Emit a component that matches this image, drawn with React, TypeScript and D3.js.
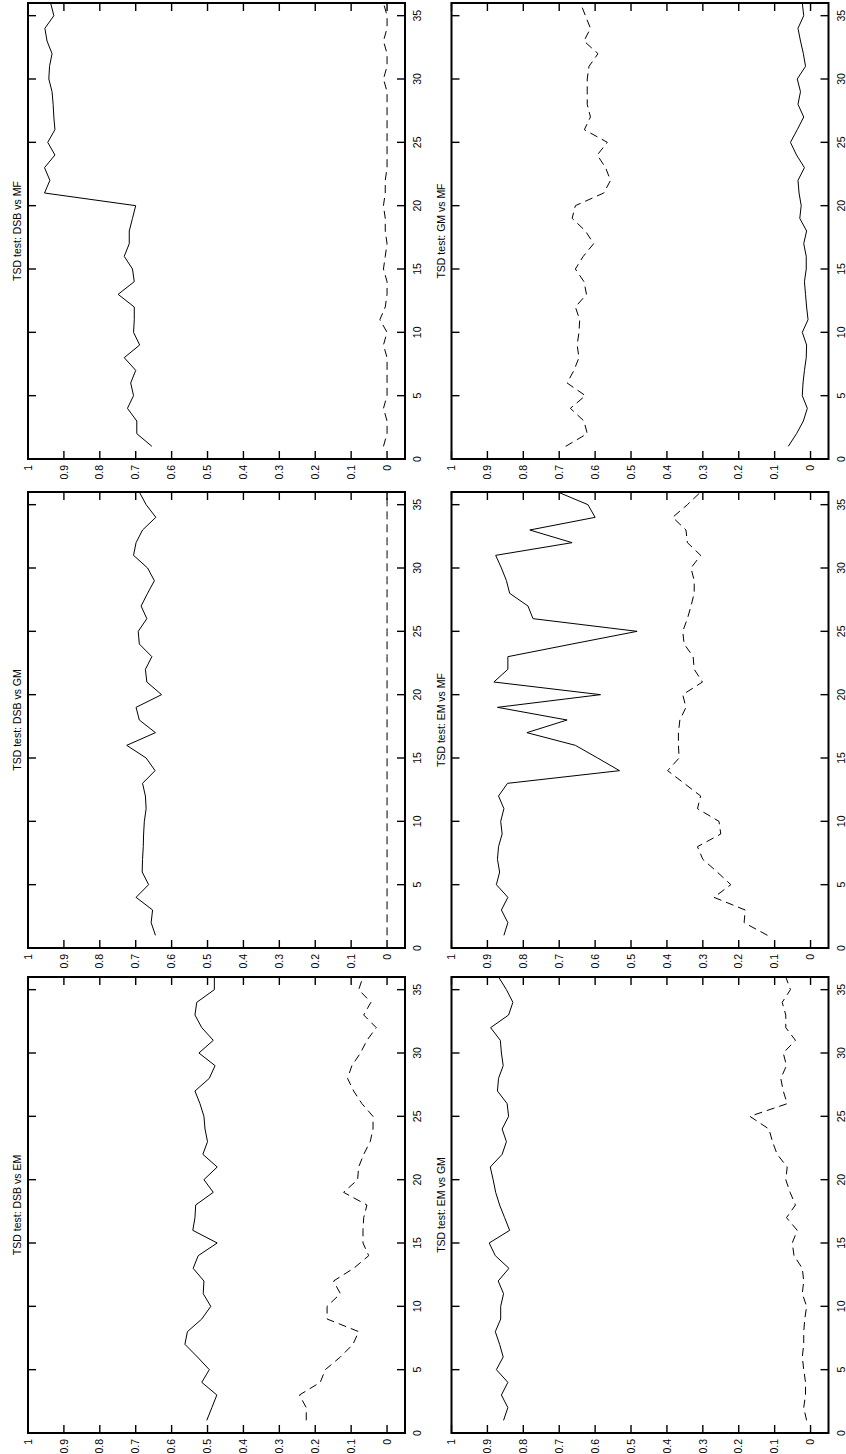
import * as d3 from "d3";

// step index along the horizontal axis of the (unrotated) plots
const steps = [1, 2, 3, 4, 5, 6, 7, 8, 9, 10, 11, 12, 13, 14, 15, 16, 17, 18, 19, 20, 21, 22, 23, 24, 25, 26, 27, 28, 29, 30, 31, 32, 33, 34, 35, 36];

const indexTicks = [0, 5, 10, 15, 20, 25, 30, 35];
const valueTicks = [0, 0.1, 0.2, 0.3, 0.4, 0.5, 0.6, 0.7, 0.8, 0.9, 1];
const valueLabels = ["0", "0.1", "0.2", "0.3", "0.4", "0.5", "0.6", "0.7", "0.8", "0.9", "1"];

const dsbEmSolid = [0.502, 0.488, 0.474, 0.516, 0.495, 0.528, 0.563, 0.556, 0.516, 0.491, 0.512, 0.510, 0.540, 0.526, 0.473, 0.541, 0.535, 0.533, 0.484, 0.510, 0.473, 0.513, 0.500, 0.507, 0.510, 0.521, 0.535, 0.495, 0.479, 0.524, 0.484, 0.516, 0.535, 0.530, 0.481, 0.481];
const dsbEmDashed = [0.225, 0.225, 0.244, 0.186, 0.172, 0.130, 0.095, 0.079, 0.167, 0.167, 0.130, 0.149, 0.093, 0.051, 0.067, 0.067, 0.065, 0.056, 0.121, 0.082, 0.079, 0.065, 0.047, 0.039, 0.039, 0.070, 0.093, 0.110, 0.098, 0.074, 0.056, 0.030, 0.065, 0.045, 0.079, 0.067];

const dsbGmSolid = [0.645, 0.657, 0.653, 0.699, 0.664, 0.682, 0.681, 0.679, 0.678, 0.676, 0.671, 0.673, 0.681, 0.646, 0.671, 0.725, 0.645, 0.690, 0.699, 0.628, 0.669, 0.673, 0.655, 0.690, 0.693, 0.669, 0.685, 0.667, 0.648, 0.667, 0.706, 0.699, 0.681, 0.644, 0.671, 0.690];
const dsbGmDashed = [0, 0, 0, 0, 0, 0, 0, 0, 0, 0, 0, 0, 0, 0, 0, 0, 0, 0, 0, 0, 0, 0, 0, 0, 0, 0, 0, 0, 0, 0, 0, 0, 0, 0, 0, 0];

const dsbMfSolid = [0.655, 0.697, 0.697, 0.723, 0.706, 0.714, 0.700, 0.732, 0.689, 0.706, 0.704, 0.704, 0.749, 0.704, 0.709, 0.732, 0.718, 0.718, 0.709, 0.700, 0.954, 0.939, 0.954, 0.925, 0.945, 0.925, 0.928, 0.930, 0.933, 0.942, 0.940, 0.933, 0.947, 0.953, 0.928, 0.937];
const dsbMfDashed = [0.01, 0.0, 0.0, 0.01, 0.0, 0.0, 0.0, 0.0, 0.01, 0.0, 0.02, 0.005, 0.0, 0.0, 0.01, 0.005, 0.0, 0.005, 0.005, 0.01, 0.005, 0.005, 0.0, 0.0, 0.0, 0.0, 0.0, 0.0, 0.0, 0.01, 0.0, 0.0, 0.01, 0.0, 0.0, 0.01];

const emGmSolid = [0.855, 0.843, 0.861, 0.843, 0.875, 0.856, 0.866, 0.878, 0.863, 0.863, 0.855, 0.870, 0.840, 0.878, 0.895, 0.838, 0.852, 0.866, 0.877, 0.884, 0.892, 0.859, 0.847, 0.859, 0.841, 0.845, 0.872, 0.869, 0.856, 0.861, 0.864, 0.891, 0.841, 0.829, 0.847, 0.869];
const emGmDashed = [0.011, 0.019, 0.014, 0.014, 0.019, 0.023, 0.019, 0.019, 0.016, 0.011, 0.023, 0.019, 0.023, 0.046, 0.051, 0.037, 0.067, 0.042, 0.057, 0.069, 0.065, 0.093, 0.106, 0.116, 0.169, 0.065, 0.076, 0.083, 0.067, 0.076, 0.042, 0.069, 0.069, 0.079, 0.056, 0.069];

const emMfSolid = [0.854, 0.843, 0.861, 0.843, 0.875, 0.866, 0.872, 0.869, 0.859, 0.863, 0.854, 0.869, 0.844, 0.532, 0.593, 0.655, 0.790, 0.678, 0.872, 0.585, 0.882, 0.843, 0.843, 0.664, 0.483, 0.773, 0.787, 0.838, 0.847, 0.861, 0.877, 0.664, 0.782, 0.600, 0.620, 0.704];
const emMfDashed = [0.120, 0.185, 0.182, 0.269, 0.222, 0.260, 0.300, 0.315, 0.250, 0.255, 0.315, 0.306, 0.352, 0.398, 0.366, 0.368, 0.368, 0.364, 0.347, 0.356, 0.301, 0.324, 0.327, 0.352, 0.356, 0.343, 0.333, 0.324, 0.324, 0.333, 0.306, 0.343, 0.347, 0.384, 0.343, 0.306];

const gmMfSolid = [0.062, 0.039, 0.020, 0.009, 0.023, 0.021, 0.017, 0.012, 0.011, 0.023, 0.007, 0.011, 0.014, 0.017, 0.012, 0.012, 0.019, 0.011, 0.030, 0.026, 0.032, 0.035, 0.017, 0.039, 0.056, 0.037, 0.019, 0.035, 0.028, 0.037, 0.014, 0.020, 0.028, 0.035, 0.019, 0.023];
const gmMfDashed = [0.682, 0.622, 0.631, 0.669, 0.627, 0.678, 0.659, 0.645, 0.650, 0.645, 0.643, 0.655, 0.624, 0.631, 0.655, 0.633, 0.604, 0.627, 0.664, 0.655, 0.576, 0.557, 0.571, 0.594, 0.566, 0.630, 0.613, 0.622, 0.622, 0.622, 0.617, 0.592, 0.631, 0.613, 0.627, 0.641];

// the whole figure is a landscape page turned a quarter turn
const PAGE_W = 1454;
const PAGE_H = 846;
const BOX_W = 456;
const BOX_H = 377;
const FONT = "'Liberation Sans', Arial, Helvetica, sans-serif";

const panels = [
  { title: "TSD test: DSB vs EM", solid: dsbEmSolid, dashed: dsbEmDashed, left: 21, top: 28 },
  { title: "TSD test: DSB vs GM", solid: dsbGmSolid, dashed: dsbGmDashed, left: 506, top: 28 },
  { title: "TSD test: DSB vs MF", solid: dsbMfSolid, dashed: dsbMfDashed, left: 995, top: 28 },
  { title: "TSD test: EM vs GM", solid: emGmSolid, dashed: emGmDashed, left: 21, top: 451.5 },
  { title: "TSD test: EM vs MF", solid: emMfSolid, dashed: emMfDashed, left: 506, top: 451.5 },
  { title: "TSD test: GM vs MF", solid: gmMfSolid, dashed: gmMfDashed, left: 995, top: 451.5 },
];

type PanelProps = { title: string; solid: number[]; dashed: number[]; left: number; top: number };

function Panel({ title, solid, dashed, left, top }: PanelProps) {
  const x = d3.scaleLinear().domain([0, 36]).range([left, left + BOX_W]);
  const y = d3.scaleLinear().domain([-0.05, 1]).range([top + BOX_H, top]);
  const line = d3
    .line<number>()
    .x((_, i) => x(steps[i]))
    .y((d) => y(d));
  const tick = 8;
  const bottom = top + BOX_H;
  const right = left + BOX_W;

  return (
    <g>
      <text x={left + BOX_W / 2} y={top - 7} textAnchor="middle" fontSize={10.5} fontFamily={FONT}>
        {title}
      </text>
      <path d={line(dashed) ?? ""} fill="none" stroke="#000" strokeWidth={1} strokeDasharray="8,5" />
      <path d={line(solid) ?? ""} fill="none" stroke="#000" strokeWidth={1} />
      {indexTicks.map((t) => (
        <g key={"i" + t}>
          <line x1={x(t)} x2={x(t)} y1={bottom} y2={bottom - tick} stroke="#000" strokeWidth={1.4} />
          <line x1={x(t)} x2={x(t)} y1={top} y2={top + tick} stroke="#000" strokeWidth={1.4} />
          <text x={x(t)} y={bottom + 16} textAnchor="middle" fontSize={10.5} fontFamily={FONT}>
            {t}
          </text>
        </g>
      ))}
      {valueTicks.map((v, k) => (
        <g key={"v" + v}>
          <line x1={left} x2={left + tick} y1={y(v)} y2={y(v)} stroke="#000" strokeWidth={1.4} />
          <line x1={right} x2={right - tick} y1={y(v)} y2={y(v)} stroke="#000" strokeWidth={1.4} />
          <text x={left - 6} y={y(v)} dy="0.35em" textAnchor="end" fontSize={10.5} fontFamily={FONT}>
            {valueLabels[k]}
          </text>
        </g>
      ))}
      <rect x={left} y={top} width={BOX_W} height={BOX_H} fill="none" stroke="#000" strokeWidth={2} />
    </g>
  );
}

export default function App() {
  return (
    <svg
      width={PAGE_H}
      height={PAGE_W}
      style={{ position: "absolute", left: 0, top: 0, background: "#fff" }}
    >
      <rect width={PAGE_H} height={PAGE_W} fill="#fff" />
      <g transform={`translate(0,${PAGE_W}) rotate(-90)`}>
        {panels.map((p) => (
          <Panel key={p.title} {...p} />
        ))}
      </g>
    </svg>
  );
}
